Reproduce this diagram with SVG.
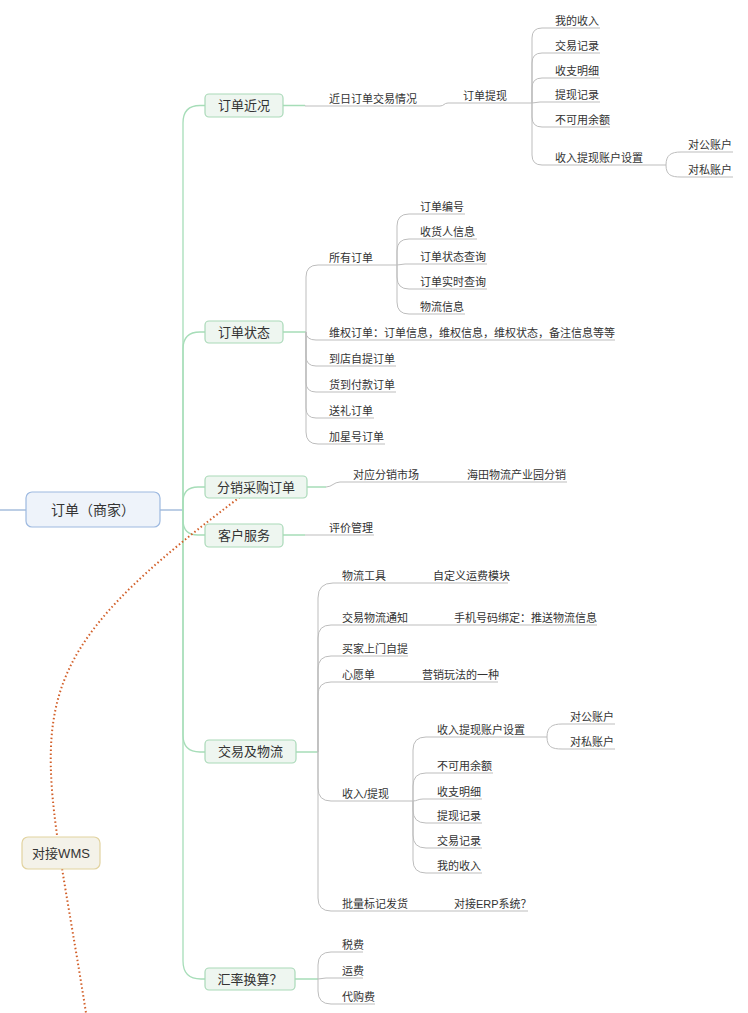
<svg xmlns="http://www.w3.org/2000/svg" width="748" height="1013" viewBox="0 0 748 1013">
<style>
text{font-family:"Liberation Sans","Noto Sans CJK SC",sans-serif;fill:#333;}
.leaf{font-size:11px;}
.br{font-size:13px;text-anchor:middle;}
.root{font-size:14px;text-anchor:middle;}
.bx{fill:#EEF6F0;stroke:#A9D9B8;stroke-width:1.2;}
.rx{fill:#EEF3FA;stroke:#9DB9E0;stroke-width:1.2;}
.wx{fill:#F4F2E9;stroke:#E2D3A0;stroke-width:1.2;}
.g{fill:none;stroke:#A6DDB8;stroke-width:1.3;}
.b{fill:none;stroke:#A7BEDD;stroke-width:1.3;}
.c{fill:none;stroke:#BDBDBD;stroke-width:1;}
.rel{fill:none;stroke:#D2602A;stroke-width:2;stroke-dasharray:1.5 2.5;}
</style>
<rect width="748" height="1013" fill="#fff"/>
<g id="connectors">
<path class="b" d="M0,510 H26 M160,510 H183"/>
<path class="g" d="M183,510 V123 Q183,105.5 200,105.5 H205"/>
<path class="g" d="M183,510 V349 Q183,332 200,332 H205"/>
<path class="g" d="M183,510 V502 Q183,487 198,487 H205"/>
<path class="g" d="M183,510 V520 Q183,535 198,535 H205"/>
<path class="g" d="M183,510 V735 Q183,752 200,752 H205"/>
<path class="g" d="M183,510 V961 Q183,979 201,979 H205"/>
<path class="g" d="M283,105.5 H305 M283,332 H306 M307,487 H326 M283,535 H305 M296,752 H318 M295,979 H318"/>
<path class="c" d="M305,105.5 L305,106 H440 C444,106 444,103 448,103 H532"/>
<path class="c" d="M532,103 V38 Q532,28 542,28 H600"/>
<path class="c" d="M532,103 V63 Q532,53 542,53 H600"/>
<path class="c" d="M532,103 V88 Q532,78 542,78 H600"/>
<path class="c" d="M532,103 L540,102 H600"/>
<path class="c" d="M532,103 V117 Q532,127 542,127 H610"/>
<path class="c" d="M532,103 V155 Q532,165 542,165 H666"/>
<path class="c" d="M666,165 C666,155 671,152 681,152 H733"/>
<path class="c" d="M666,165 C666,175 671,177 681,177 H733"/>
<path class="c" d="M306,332 V277 Q306,265 318,265 H397"/>
<path class="c" d="M306,332 Q306,340 316,340 H615"/>
<path class="c" d="M306,332 V356 Q306,366 316,366 H396"/>
<path class="c" d="M306,332 V382 Q306,392 316,392 H396"/>
<path class="c" d="M306,332 V408 Q306,418 316,418 H374"/>
<path class="c" d="M306,332 V432 Q306,444 318,444 H385"/>
<path class="c" d="M397,265 V226 Q397,214 409,214 H465"/>
<path class="c" d="M397,265 V251 Q397,239 409,239 H477"/>
<path class="c" d="M397,265 L405,264 H487"/>
<path class="c" d="M397,265 V277 Q397,289 409,289 H487"/>
<path class="c" d="M397,265 V302 Q397,314 409,314 H465"/>
<path class="c" d="M326,487 C332,487 334,482 340,482 H567"/>
<path class="c" d="M305,535 H374"/>
<path class="c" d="M318,752 V598 Q318,583 333,583 H508"/>
<path class="c" d="M318,752 V638 Q318,625 331,625 H597"/>
<path class="c" d="M318,752 V669 Q318,656 331,656 H408"/>
<path class="c" d="M318,752 V695 Q318,682 331,682 H498"/>
<path class="c" d="M318,752 V788 Q318,801 331,801 H413"/>
<path class="c" d="M318,752 V898 Q318,911 331,911 H528"/>
<path class="c" d="M413,801 V750 Q413,737 426,737 H547"/>
<path class="c" d="M413,801 V786 Q413,773 426,773 H493"/>
<path class="c" d="M413,801 C417,801 418,799 423,799 H482"/>
<path class="c" d="M413,801 V810 Q413,823 426,823 H482"/>
<path class="c" d="M413,801 V835 Q413,848 426,848 H482"/>
<path class="c" d="M413,801 V860 Q413,873 426,873 H482"/>
<path class="c" d="M547,737 C547,727 552,724 562,724 H615"/>
<path class="c" d="M547,737 C547,747 552,749 562,749 H615"/>
<path class="c" d="M318,979 V965 Q318,952 331,952 H363"/>
<path class="c" d="M318,979 L326,978 H363"/>
<path class="c" d="M318,979 V991 Q318,1004 331,1004 H375"/>
<path class="rel" d="M240,497 C0,677 39,713 86,1013"/>
</g>
<g id="root"><rect class="rx" x="26" y="492" width="134" height="35" rx="6"/><text class="root" x="93" y="515">订单（商家）</text></g>
<g id="n-jk"><rect class="bx" x="205" y="94" width="78" height="23" rx="4"/><text class="br" x="244" y="110">订单近况</text></g>
<g id="n-zt"><rect class="bx" x="205" y="321" width="78" height="22" rx="4"/><text class="br" x="244" y="337">订单状态</text></g>
<g id="n-fx"><rect class="bx" x="205" y="476" width="102" height="22" rx="4"/><text class="br" x="256" y="492">分销采购订单</text></g>
<g id="n-kf"><rect class="bx" x="205" y="524" width="78" height="23" rx="4"/><text class="br" x="244" y="540">客户服务</text></g>
<g id="n-jy"><rect class="bx" x="205" y="740" width="91" height="23" rx="4"/><text class="br" x="250.5" y="756">交易及物流</text></g>
<g id="n-hl"><rect class="bx" x="205" y="968" width="90" height="22" rx="4"/><text class="br" x="250" y="984">汇率换算？</text></g>
<g id="n-wms"><rect class="wx" x="22" y="837" width="78" height="32" rx="6"/><text class="br" x="61" y="858">对接WMS</text></g>
<g id="leaves">
<text class="leaf" x="329" y="103">近日订单交易情况</text>
<text class="leaf" x="463" y="100">订单提现</text>
<text class="leaf" x="555" y="25">我的收入</text>
<text class="leaf" x="555" y="50">交易记录</text>
<text class="leaf" x="555" y="75">收支明细</text>
<text class="leaf" x="555" y="99">提现记录</text>
<text class="leaf" x="555" y="124">不可用余额</text>
<text class="leaf" x="555" y="162">收入提现账户设置</text>
<text class="leaf" x="688" y="149">对公账户</text>
<text class="leaf" x="688" y="174">对私账户</text>
<text class="leaf" x="329" y="262">所有订单</text>
<text class="leaf" x="420" y="211">订单编号</text>
<text class="leaf" x="420" y="236">收货人信息</text>
<text class="leaf" x="420" y="261">订单状态查询</text>
<text class="leaf" x="420" y="286">订单实时查询</text>
<text class="leaf" x="420" y="311">物流信息</text>
<text class="leaf" x="329" y="337">维权订单：订单信息，维权信息，维权状态，备注信息等等</text>
<text class="leaf" x="329" y="363">到店自提订单</text>
<text class="leaf" x="329" y="389">货到付款订单</text>
<text class="leaf" x="329" y="415">送礼订单</text>
<text class="leaf" x="329" y="441">加星号订单</text>
<text class="leaf" x="353" y="479">对应分销市场</text>
<text class="leaf" x="467" y="479">海田物流产业园分销</text>
<text class="leaf" x="329" y="532">评价管理</text>
<text class="leaf" x="342" y="580">物流工具</text>
<text class="leaf" x="433" y="580">自定义运费模块</text>
<text class="leaf" x="342" y="622">交易物流通知</text>
<text class="leaf" x="454" y="622">手机号码绑定：推送物流信息</text>
<text class="leaf" x="342" y="653">买家上门自提</text>
<text class="leaf" x="342" y="679">心愿单</text>
<text class="leaf" x="422" y="679">营销玩法的一种</text>
<text class="leaf" x="342" y="798">收入/提现</text>
<text class="leaf" x="437" y="734">收入提现账户设置</text>
<text class="leaf" x="570" y="721">对公账户</text>
<text class="leaf" x="570" y="746">对私账户</text>
<text class="leaf" x="437" y="770">不可用余额</text>
<text class="leaf" x="437" y="796">收支明细</text>
<text class="leaf" x="437" y="820">提现记录</text>
<text class="leaf" x="437" y="845">交易记录</text>
<text class="leaf" x="437" y="870">我的收入</text>
<text class="leaf" x="342" y="908">批量标记发货</text>
<text class="leaf" x="454" y="908">对接ERP系统？</text>
<text class="leaf" x="342" y="949">税费</text>
<text class="leaf" x="342" y="975">运费</text>
<text class="leaf" x="342" y="1001">代购费</text>
</g>
</svg>
